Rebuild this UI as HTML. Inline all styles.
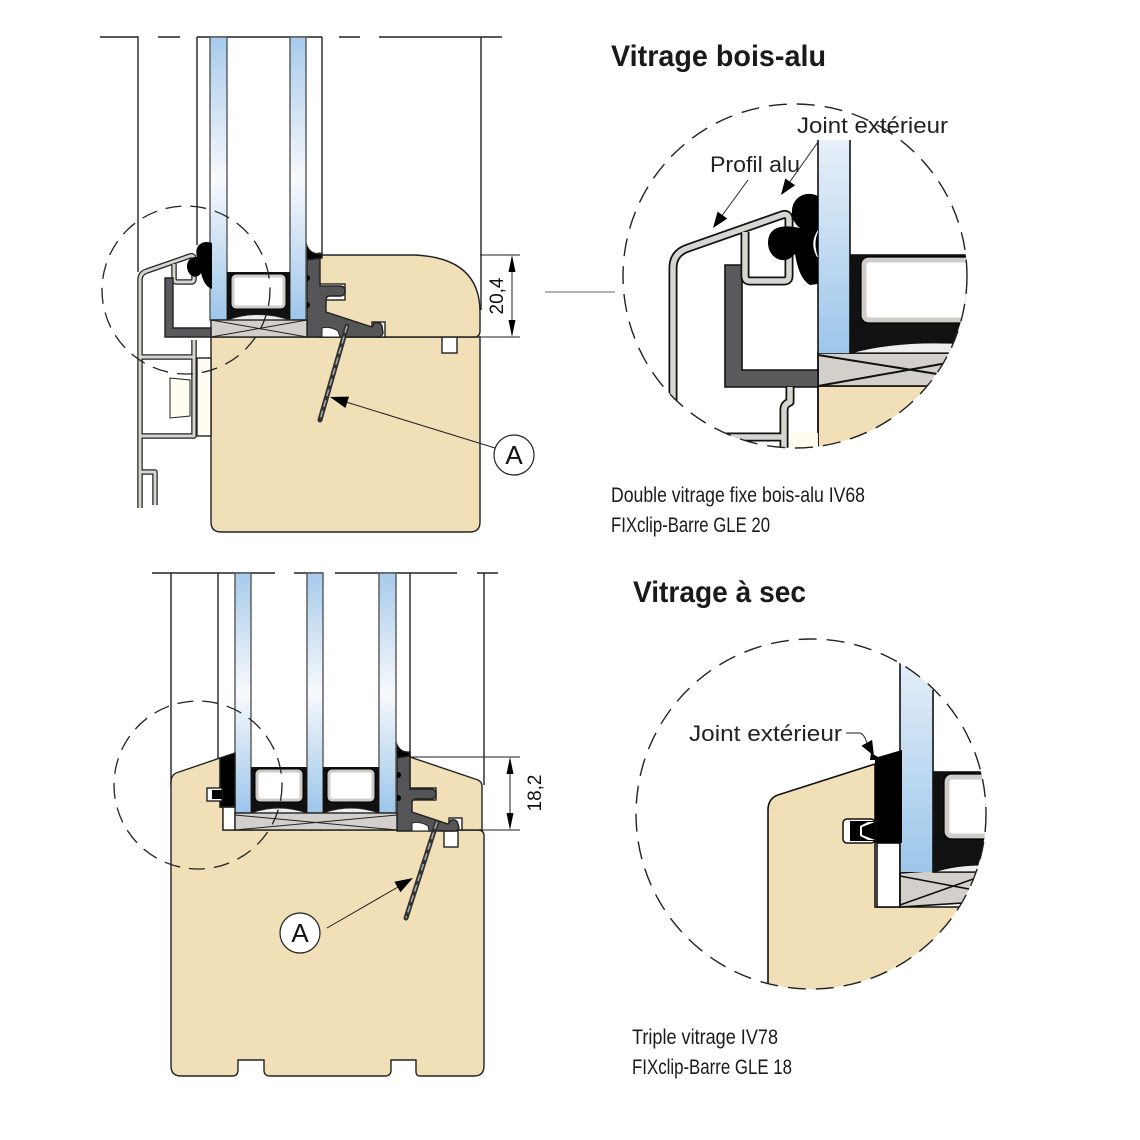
<!DOCTYPE html>
<html><head><meta charset="utf-8"><style>html,body{margin:0;padding:0;background:#fff}svg{display:block}</style></head><body>
<svg width="1140" height="1140" viewBox="0 0 1140 1140" xmlns="http://www.w3.org/2000/svg" font-family="Liberation Sans, sans-serif">
<defs>
<linearGradient id="g1" x1="0" y1="0" x2="0" y2="1"><stop offset="0" stop-color="#a7cbeb"/><stop offset="0.5" stop-color="#f8f9fc"/><stop offset="1" stop-color="#9cc6ea"/></linearGradient>
<linearGradient id="g2" x1="0" y1="0" x2="0" y2="1"><stop offset="0" stop-color="#e8f0f9"/><stop offset="1" stop-color="#9cc6ea"/></linearGradient>
<clipPath id="c1"><circle cx="795" cy="276" r="172"/></clipPath>
<clipPath id="c2"><circle cx="811" cy="814" r="175"/></clipPath>
</defs>
<rect width="1140" height="1140" fill="#fff"/>

<!-- ===== TOP DRAWING ===== -->
<g stroke="#222" stroke-width="1.4" fill="none">
<path d="M100,37H138V272M158,37H180M197,37H322M339,37H360M379,37H502M197,37V245M322,37V255M481,37V310"/>
<path d="M211,337H480V522Q480,532 470,532H221Q211,532 211,522Z" fill="#f0dfb7"/>
<rect x="442" y="337" width="15" height="16" fill="#fff"/>
<rect x="197" y="358" width="14" height="78" fill="#fffdf3"/>
<path d="M317,255H415Q480,258 480,312V331Q480,337 474,337H317Z" fill="#f0dfb7"/>
<rect x="318" y="284" width="27" height="16" fill="#fff"/>
<rect x="372" y="322" width="13" height="15" fill="#fff"/>
<path d="M307,256L320,253V286H340Q345,286 345,291Q345,296 340,296H330Q326,296 326,300V312L372,327L374,323Q380,321 382,326L383,333Q382,337 377,337H307Z" fill="#555557"/>
<path d="M322,337V328Q330,326 338,331L340,337Z" fill="#fff" stroke-width="1"/>
<path d="M306,243Q309,255 322,254L322,258L307,260Z" fill="#000"/>
<circle cx="307" cy="278" r="3" fill="#000" stroke="none"/>
<circle cx="307" cy="305" r="3" fill="#000" stroke="none"/>
<rect x="210" y="37" width="17" height="283" fill="url(#g1)" stroke="#555"/>
<rect x="290" y="37" width="16" height="283" fill="url(#g1)" stroke="#555"/>
<rect x="227" y="272" width="63" height="48" fill="#111" stroke="none"/>
<rect x="233" y="276" width="51" height="31" rx="3" fill="#fff" stroke="#cfccc7" stroke-width="3"/>
<rect x="231" y="274" width="55" height="35" rx="4" stroke="#000" stroke-width="1"/>
<path d="M227,320Q258,309 290,320Z" fill="#eee" stroke-width="1"/>
<rect x="211" y="320" width="96" height="17" fill="#d3d0cb"/>
<path d="M211,320L307,337M211,337L307,320" stroke-width="1"/>
<!-- alu profile -->
<g stroke-linejoin="round">
<path d="M140,508V280Q140,273 147,271L190,256Q194,255 194,259V279Q194,282 191,282H177Q174,282 174,279V264M140,357H194V340M194,357V436H140M140,472H155V505" stroke="#222" stroke-width="5.5"/>
<path d="M140,508V280Q140,273 147,271L190,256Q194,255 194,259V279Q194,282 191,282H177Q174,282 174,279V264M140,357H194V340M194,357V436H140M140,472H155V505" stroke="#d7d5d0" stroke-width="3"/>
</g>
<path d="M170,378L190,380V416L170,418Z" fill="#fffdf0" stroke-width="1"/>
<path d="M165,278H173V328H211V337H165Z" fill="#5a5a5c"/>
<path d="M212,243C201,239 194,247 197,257C189,256 184,265 189,273C193,279 199,277 201,273C203,281 206,287 212,289Z" fill="#000" stroke="none"/>
<!-- screw -->
<line x1="347" y1="326" x2="320" y2="420" stroke="#333" stroke-width="5" stroke-linecap="round"/>
<line x1="347" y1="326" x2="320" y2="420" stroke="#aaa" stroke-width="1.5" stroke-dasharray="7 4"/>
<!-- leader A -->
<line x1="495" y1="448" x2="346" y2="402" stroke-width="1"/>
<polygon points="330,397 349,396.6 345.4,408" fill="#000" stroke="none"/>
<circle cx="514" cy="455" r="20" fill="#fff" stroke-width="1.2"/>
<!-- dimension -->
<path d="M480,255H520M480,337H520M512,268V324" stroke-width="1"/>
<polygon points="512,255 508.5,272 515.5,272" fill="#000" stroke="none"/>
<polygon points="512,337 508.5,320 515.5,320" fill="#000" stroke="none"/>
<!-- dashed circle -->
<circle cx="186" cy="290" r="84" stroke-width="1.3" stroke-dasharray="16 9"/>
</g>
<text x="514" y="464" font-size="26" text-anchor="middle" fill="#111">A</text>
<text transform="translate(503,296) rotate(-90)" font-size="19" text-anchor="middle" fill="#111">20,4</text>

<!-- ===== TOP DETAIL CIRCLE ===== -->
<line x1="545" y1="292" x2="615" y2="292" stroke="#888" stroke-width="1.2"/>
<g clip-path="url(#c1)" stroke="#111" stroke-width="1.6" fill="none">
<rect x="818" y="386" width="170" height="80" fill="#f0dfb7"/>
<rect x="818" y="353" width="170" height="33" fill="#d3d0cb"/>
<path d="M818,355L975,380M818,386L975,358" stroke-width="2"/>
<rect x="850" y="255" width="140" height="98" fill="#111"/>
<rect x="864" y="260" width="115" height="60" rx="5" fill="#fff" stroke="#d0cdc8" stroke-width="5"/>
<rect x="861" y="257" width="121" height="66" rx="6" stroke="#000" stroke-width="1.2"/>
<path d="M850,353Q905,338 980,345V353Z" fill="#eee" stroke-width="1.2"/>
<rect x="818" y="140" width="32" height="213" fill="url(#g2)" stroke="none"/>
<path d="M818,140V460M850,140V353"/>
<path d="M725,265H742V370H818V387H725Z" fill="#5a5a5c"/>
<rect x="790" y="433" width="28" height="30" fill="#fffdf0" stroke="none"/>
<g stroke-linejoin="round">
<path d="M673,470V268Q673,253 688,248L782,215Q789,213 789,220V276Q789,281 784,281H750Q745,281 745,276V232M790,387V402Q784,404 784,410V470M673,437H784" stroke="#111" stroke-width="9"/>
<path d="M673,470V268Q673,253 688,248L782,215Q789,213 789,220V276Q789,281 784,281H750Q745,281 745,276V232M790,387V402Q784,404 784,410V470M673,437H784" stroke="#d7d5d0" stroke-width="5.5"/>
</g>
<path d="M818,196C806,190 793,197 792,210C791,218 795,224 800,228C790,226 776,224 770,234C764,246 772,262 786,260C790,259 793,256 795,254C797,266 801,280 810,285L818,284Z" fill="#000" stroke="none"/>
<path d="M818,230Q809,243 817,257L818,257Q813,243 818,232Z" fill="#fff" stroke="none"/>
</g>
<circle cx="795" cy="276" r="172" stroke="#222" stroke-width="1.4" fill="none" stroke-dasharray="18 10"/>
<g stroke="#222" stroke-width="1">
<line x1="748" y1="180" x2="721" y2="217"/>
<line x1="818" y1="142" x2="789" y2="183"/>
</g>
<polygon points="713,228 727.3,218.6 717.6,211.6" fill="#000"/>
<polygon points="781,195 795.1,185.3 785.3,178.5" fill="#000"/>
<text x="797" y="133" font-size="22" fill="#222" textLength="151" lengthAdjust="spacingAndGlyphs">Joint extérieur</text>
<text x="710" y="172" font-size="22" fill="#222" textLength="90" lengthAdjust="spacingAndGlyphs">Profil alu</text>

<!-- titles / captions -->
<text x="611" y="66" font-size="30" font-weight="bold" fill="#1a1a1a" textLength="215" lengthAdjust="spacingAndGlyphs">Vitrage bois-alu</text>
<text x="611" y="502" font-size="21" fill="#1a1a1a" textLength="254" lengthAdjust="spacingAndGlyphs">Double vitrage fixe bois-alu IV68</text>
<text x="611" y="532" font-size="21" fill="#1a1a1a" textLength="159" lengthAdjust="spacingAndGlyphs">FIXclip-Barre GLE 20</text>
<text x="633" y="602" font-size="30" font-weight="bold" fill="#1a1a1a" textLength="173" lengthAdjust="spacingAndGlyphs">Vitrage à sec</text>
<text x="632" y="1044" font-size="21" fill="#1a1a1a" textLength="146" lengthAdjust="spacingAndGlyphs">Triple vitrage IV78</text>
<text x="632" y="1074" font-size="21" fill="#1a1a1a" textLength="160" lengthAdjust="spacingAndGlyphs">FIXclip-Barre GLE 18</text>

<!-- ===== BOTTOM DRAWING ===== -->
<g stroke="#222" stroke-width="1.4" fill="none">
<path d="M152,573H275M294,573H323M335,573H457M477,573H498M171,573V785M218,573V758M410,573V757M484,573V785"/>
<path d="M171,1066V782Q171,774 179,772L220,758V807H223V830H478Q484,830 484,836V1066Q484,1076 474,1076H420Q416,1076 416,1072V1060H391V1070Q391,1076 385,1076H270Q264,1076 264,1070V1060H238V1070Q238,1076 232,1076H181Q171,1076 171,1066Z" fill="#f0dfb7"/>
<path d="M410,757L478,780Q482,782 482,786V830H410Z" fill="#f0dfb7"/>
<rect x="408" y="788" width="28" height="12" fill="#fff"/>
<rect x="449" y="818" width="13" height="12" fill="#fff"/>
<rect x="444" y="831" width="14" height="16" fill="#fff"/>
<path d="M397,755L410,752V789H430Q436,789 436,794Q436,799 430,799H416Q412,799 412,803V812L448,824L451,820Q457,819 458,824L459,828Q458,831 454,831H397Z" fill="#555557"/>
<path d="M412,831V823Q420,821 428,826L429,831Z" fill="#fff" stroke-width="1"/>
<path d="M396,742Q399,753 410,752L410,756L397,758Z" fill="#000"/>
<circle cx="398" cy="775" r="3" fill="#000" stroke="none"/>
<circle cx="398" cy="798" r="3" fill="#000" stroke="none"/>
<rect x="235" y="573" width="16" height="240" fill="url(#g1)" stroke="#555"/>
<rect x="307" y="573" width="16" height="240" fill="url(#g1)" stroke="#555"/>
<rect x="379" y="573" width="17" height="240" fill="url(#g1)" stroke="#555"/>
<rect x="251" y="767" width="56" height="46" fill="#111" stroke="none"/>
<rect x="323" y="767" width="56" height="46" fill="#111" stroke="none"/>
<rect x="257" y="771" width="44" height="29" rx="3" fill="#fff" stroke="#cfccc7" stroke-width="3"/>
<rect x="329" y="771" width="44" height="29" rx="3" fill="#fff" stroke="#cfccc7" stroke-width="3"/>
<rect x="255" y="769" width="48" height="33" rx="4" stroke="#000" stroke-width="1"/>
<rect x="327" y="769" width="48" height="33" rx="4" stroke="#000" stroke-width="1"/>
<path d="M251,813Q279,803 307,813ZM323,813Q351,803 379,813Z" fill="#eee" stroke-width="1"/>
<rect x="223" y="807" width="12" height="23" fill="#fff"/>
<rect x="235" y="813" width="162" height="17" fill="#d3d0cb"/>
<path d="M235,815L397,830M235,830L397,815" stroke-width="1"/>
<path d="M220,758L235,753V807H220Z" fill="#000"/>
<rect x="207" y="788" width="15" height="13" fill="#fff"/>
<path d="M212,790H222V799H212Z" fill="#000" stroke="none"/>
<!-- screw -->
<line x1="437" y1="822" x2="406" y2="918" stroke="#333" stroke-width="5" stroke-linecap="round"/>
<line x1="437" y1="822" x2="406" y2="918" stroke="#aaa" stroke-width="1.5" stroke-dasharray="7 4"/>
<!-- leader A -->
<line x1="327" y1="928" x2="398" y2="887" stroke-width="1"/>
<polygon points="413,878 400.4,892.2 394.4,881.8" fill="#000" stroke="none"/>
<circle cx="300" cy="933" r="20" fill="#fff" stroke-width="1.2"/>
<!-- dimension -->
<path d="M410,757H520M482,830H520M510,770V817" stroke-width="1"/>
<polygon points="510,757 506.5,774 513.5,774" fill="#000" stroke="none"/>
<polygon points="510,830 506.5,813 513.5,813" fill="#000" stroke="none"/>
<circle cx="198" cy="785" r="84" stroke-width="1.3" stroke-dasharray="16 9"/>
</g>
<text x="300" y="942" font-size="26" text-anchor="middle" fill="#111">A</text>
<text transform="translate(541,793) rotate(-90)" font-size="19" text-anchor="middle" fill="#111">18,2</text>

<!-- ===== BOTTOM DETAIL CIRCLE ===== -->
<g clip-path="url(#c2)" stroke="#111" stroke-width="1.6" fill="none">
<path d="M768,1010V810Q768,797 781,794L875,764V907H1000V1010Z" fill="#f0dfb7"/>
<rect x="877" y="843" width="23" height="64" fill="#fff"/>
<path d="M900,873L995,866V901L900,907Z" fill="#d3d0cb"/>
<path d="M900,876L990,893M900,905L990,873" stroke-width="1.6"/>
<rect x="933" y="772" width="70" height="100" fill="#111"/>
<rect x="947" y="777" width="60" height="59" rx="5" fill="#fff" stroke="#d0cdc8" stroke-width="5"/>
<rect x="944" y="774" width="66" height="65" rx="6" stroke="#000" stroke-width="1.2"/>
<path d="M933,872Q965,862 1000,866V872Z" fill="#eee" stroke-width="1.2"/>
<rect x="900" y="650" width="33" height="222" fill="url(#g2)" stroke="none"/>
<path d="M900,650V907M933,690V872"/>
<path d="M871,753L878,757L902,750V843H875V760L870,760Z" fill="#000" stroke="none"/>
<rect x="843" y="819" width="32" height="24" rx="4" fill="#fff" stroke="#111" stroke-width="1.5"/>
<path d="M850,821H875V841H850Z" fill="#000" stroke="none"/>
<path d="M860,826L868,822H875L875,840H868L860,836Z" fill="#fff" stroke="none"/>
<path d="M862,827L875,822V840L862,835Z" fill="#000" stroke="none"/>
</g>
<circle cx="811" cy="814" r="175" stroke="#222" stroke-width="1.4" fill="none" stroke-dasharray="18 10"/>
<path d="M846,733H860Q864,734 867,743" stroke="#222" stroke-width="1" fill="none"/>
<polygon points="874,756 872.1,739.9 861.5,745.7" fill="#000"/>
<text x="689" y="741" font-size="22" fill="#222" textLength="153" lengthAdjust="spacingAndGlyphs">Joint extérieur</text>
</svg>
</body></html>
